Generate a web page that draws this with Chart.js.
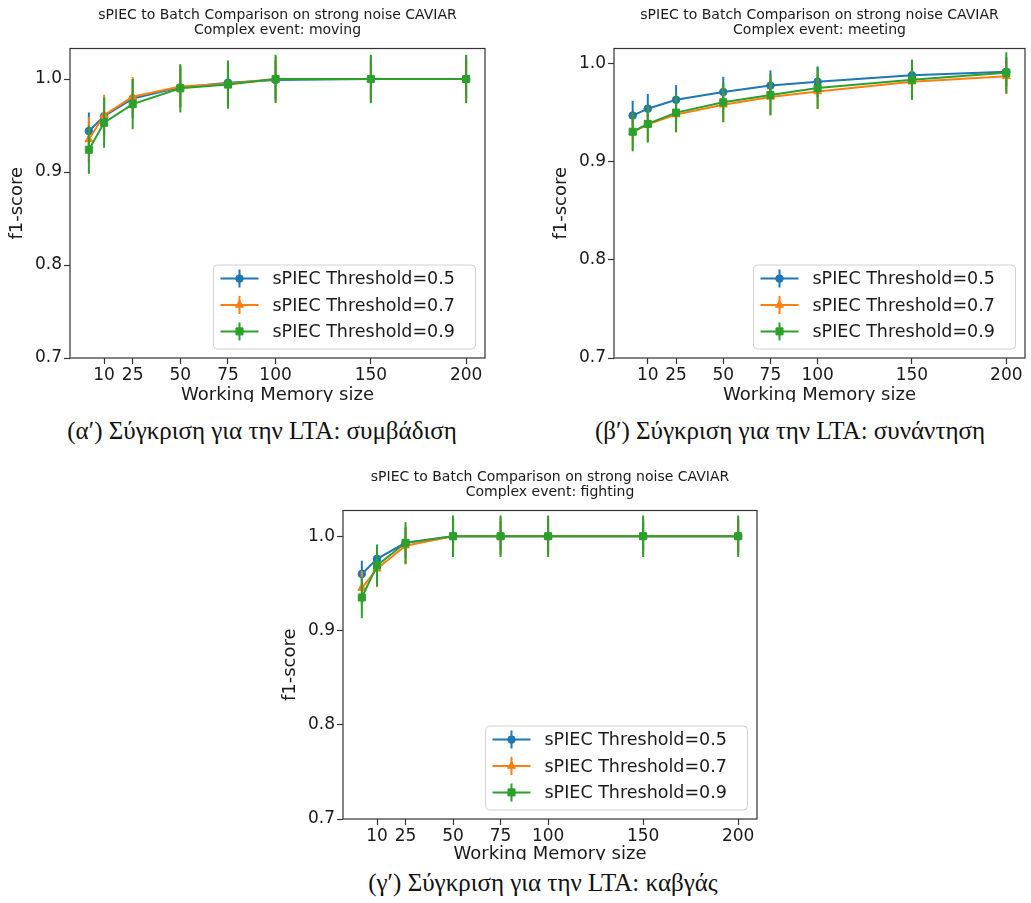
<!DOCTYPE html>
<html>
<head>
<meta charset="utf-8">
<script src="https://cdn.jsdelivr.net/npm/chart.js@4.4.0/dist/chart.umd.min.js"></script>
<style>
  body { margin: 0; background: #fff; width: 1031px; height: 903px; position: relative; overflow: hidden; }
  .wrap { position: absolute; overflow: hidden; }
  .wrap canvas { display: block; }
  .caption { position: absolute; font-family: "Liberation Serif", serif; font-size: 25px; color: #111; white-space: nowrap; transform: translateX(-50%); line-height: 25px; }
</style>
</head>
<body>
<div class="wrap" style="left:0px;top:0px;width:505px;height:402px"><canvas id="chartMoving" width="505" height="410"></canvas></div>
<div class="wrap" style="left:544px;top:0px;width:487px;height:402px"><canvas id="chartMeeting" width="487" height="410"></canvas></div>
<div class="wrap" style="left:273px;top:462px;width:504px;height:398px"><canvas id="chartFighting" width="504" height="407"></canvas></div>

<div class="caption" style="left:262px;top:418px">(α′) Σύγκριση για την LTA: συμβάδιση</div>
<div class="caption" style="left:790px;top:418px">(β′) Σύγκριση για την LTA: συνάντηση</div>
<div class="caption" style="left:543px;top:870px">(γ′) Σύγκριση για την LTA: καβγάς</div>

<script>
// working memory sizes on the x axis
const wmSizes = [2, 10, 25, 50, 75, 100, 150, 200];
const xTickValues = [10, 25, 50, 75, 100, 150, 200];
const yTickValues = [0.7, 0.8, 0.9, 1.0];
const thresholdLabels = ["sPIEC Threshold=0.5", "sPIEC Threshold=0.7", "sPIEC Threshold=0.9"];

// moving
const movingT05 = [0.944, 0.960, 0.979, 0.991, 0.996, 0.999, 1.0, 1.0];
const movingT05Err = [0.020, 0.020, 0.021, 0.021, 0.021, 0.021, 0.021, 0.021];
const movingT07 = [0.935, 0.961, 0.981, 0.992, 0.995, 1.0, 1.0, 1.0];
const movingT07Err = [0.024, 0.022, 0.021, 0.023, 0.024, 0.024, 0.025, 0.025];
const movingT09 = [0.924, 0.953, 0.973, 0.990, 0.994, 1.0, 1.0, 1.0];
const movingT09Err = [0.026, 0.027, 0.027, 0.026, 0.026, 0.026, 0.026, 0.026];

// meeting
const meetingT05 = [0.947, 0.954, 0.963, 0.971, 0.9775, 0.9815, 0.988, 0.9915];
const meetingT05Err = [0.015, 0.015, 0.015, 0.0155, 0.0155, 0.0155, 0.015, 0.015];
const meetingT07 = [0.930, 0.938, 0.948, 0.958, 0.966, 0.9715, 0.9815, 0.987];
const meetingT07Err = [0.018, 0.018, 0.018, 0.018, 0.018, 0.018, 0.018, 0.018];
const meetingT09 = [0.9305, 0.9385, 0.950, 0.9605, 0.968, 0.975, 0.9835, 0.9905];
const meetingT09Err = [0.020, 0.019, 0.020, 0.020, 0.021, 0.021, 0.0205, 0.021];

// fighting
const fightingT05 = [0.960, 0.976, 0.993, 1.0, 1.0, 1.0, 1.0, 1.0];
const fightingT05Err = [0.014, 0.015, 0.016, 0.016, 0.016, 0.016, 0.016, 0.016];
const fightingT07 = [0.945, 0.9655, 0.990, 1.0, 1.0, 1.0, 1.0, 1.0];
const fightingT07Err = [0.018, 0.0195, 0.020, 0.020, 0.020, 0.020, 0.020, 0.020];
const fightingT09 = [0.935, 0.969, 0.993, 1.0, 1.0, 1.0, 1.0, 1.0];
const fightingT09Err = [0.022, 0.022, 0.022, 0.022, 0.022, 0.022, 0.022, 0.022];

const seriesColors = ["#1f77b4", "#ff7f0e", "#2ca02c"];
const markerStyles = ["circle", "triangle", "rect"];
const markerSizes = [3.8, 4.6, 5];
const textColor = "#1a1a1a";
const sansFont = "DejaVu Sans";

// vertical error bars, drawn just under each series
const errorBarPlugin = {
    id: "errorBars",
    beforeDatasetDraw(chart, args) {
        let ds = chart.data.datasets[args.index];
        let yScale = chart.scales.y;
        let c = chart.ctx;
        c.save();
        c.strokeStyle = ds.borderColor;
        c.lineWidth = 2;
        args.meta.data.forEach((pt, j) => {
            let v = ds.data[j].y;
            let e = ds.errors[j];
            c.beginPath();
            c.moveTo(pt.x, yScale.getPixelForValue(v - e));
            c.lineTo(pt.x, yScale.getPixelForValue(v + e));
            c.stroke();
        });
        c.restore();
    }
};

// axes frame + matplotlib-like legend in the lower right corner
const frameLegendPlugin = {
    id: "frameLegend",
    afterDraw(chart) {
        let c = chart.ctx;
        let a = chart.chartArea;
        c.save();
        c.strokeStyle = "#333";
        c.lineWidth = 1.2;
        c.strokeRect(a.left, a.top, a.right - a.left, a.bottom - a.top);

        let w = 262, h = 84;
        let x0 = a.right - 9.5 - w;
        let y0 = a.bottom - 9 - h;
        c.beginPath();
        c.roundRect(x0, y0, w, h, 4);
        c.fillStyle = "rgba(255,255,255,0.8)";
        c.fill();
        c.strokeStyle = "#d0d0d0";
        c.lineWidth = 1;
        c.stroke();

        chart.data.datasets.forEach((ds, i) => {
            let yy = y0 + 13.6 + i * 26.4;
            c.strokeStyle = ds.borderColor;
            c.fillStyle = ds.borderColor;
            c.lineWidth = 2;
            c.beginPath();
            c.moveTo(x0 + 7, yy);
            c.lineTo(x0 + 45, yy);
            c.moveTo(x0 + 26, yy - 9);
            c.lineTo(x0 + 26, yy + 9);
            c.stroke();
            c.lineWidth = 1;
            Chart.helpers.drawPoint(c, {pointStyle: ds.pointStyle, radius: ds.pointRadius, rotation: 0, borderWidth: 1}, x0 + 26, yy);
            c.fillStyle = textColor;
            c.font = "17.5px '" + sansFont + "'";
            c.textBaseline = "middle";
            c.textAlign = "left";
            c.fillText(ds.label, x0 + 59, yy + 1);
        });
        c.restore();
    }
};

function buildChart(canvasId, eventName, series, errors, yMax, axisHeight, padRight) {
    let ctx = document.getElementById(canvasId).getContext("2d");
    return new Chart(ctx, {
        type: "line",
        data: {
            datasets: series.map((vals, i) => ({
                label: thresholdLabels[i],
                data: vals.map((v, j) => ({x: wmSizes[j], y: v})),
                errors: errors[i],
                borderColor: seriesColors[i],
                backgroundColor: seriesColors[i],
                borderWidth: 2,
                pointStyle: markerStyles[i],
                pointRadius: markerSizes[i],
                pointBorderWidth: 1,
                pointBorderColor: seriesColors[i],
                pointBackgroundColor: seriesColors[i],
                tension: 0,
                fill: false,
                order: 3 - i
            }))
        },
        options: {
            responsive: false,
            animation: false,
            events: [],
            layout: {padding: {left: 0, right: padRight, top: 0, bottom: 0}},
            plugins: {
                legend: {display: false},
                tooltip: {enabled: false},
                title: {
                    display: true,
                    fullSize: false,
                    text: ["sPIEC to Batch Comparison on strong noise CAVIAR", "Complex event: " + eventName],
                    color: textColor,
                    font: {family: sansFont, size: 14, weight: "normal", lineHeight: 15 / 14},
                    padding: {top: 7.5, bottom: 11}
                }
            },
            scales: {
                x: {
                    type: "linear",
                    min: -7.9,
                    max: 209.9,
                    afterBuildTicks: s => { s.ticks = xTickValues.map(v => ({value: v})); },
                    afterFit: s => { s.height = axisHeight; },
                    ticks: {
                        autoSkip: false,
                        maxRotation: 0,
                        padding: 1,
                        color: textColor,
                        font: {family: sansFont, size: 17},
                        callback: v => String(v)
                    },
                    grid: {drawOnChartArea: false, drawTicks: true, tickLength: 6, tickColor: "#333", tickWidth: 1.2},
                    border: {display: false},
                    title: {
                        display: true,
                        text: "Working Memory size",
                        color: textColor,
                        font: {family: sansFont, size: 18},
                        padding: {top: 4, bottom: 4}
                    }
                },
                y: {
                    type: "linear",
                    min: 0.7,
                    max: yMax,
                    afterBuildTicks: s => { s.ticks = yTickValues.map(v => ({value: v})); },
                    afterFit: s => { s.width = 70; },
                    ticks: {
                        padding: 2,
                        color: textColor,
                        font: {family: sansFont, size: 17},
                        callback: v => v.toFixed(1)
                    },
                    grid: {drawOnChartArea: false, drawTicks: true, tickLength: 6, tickColor: "#333", tickWidth: 1.2},
                    border: {display: false},
                    title: {
                        display: true,
                        text: "f1-score",
                        color: textColor,
                        font: {family: sansFont, size: 18},
                        padding: {top: 6.5, bottom: 0}
                    }
                }
            }
        },
        plugins: [errorBarPlugin, frameLegendPlugin]
    });
}

buildChart("chartMoving", "moving",
    [movingT05, movingT07, movingT09],
    [movingT05Err, movingT07Err, movingT09Err],
    1.0328, 52, 20);

buildChart("chartMeeting", "meeting",
    [meetingT05, meetingT07, meetingT09],
    [meetingT05Err, meetingT07Err, meetingT09Err],
    1.0153, 52, 2);

buildChart("chartFighting", "fighting",
    [fightingT05, fightingT07, fightingT09],
    [fightingT05Err, fightingT07Err, fightingT09Err],
    1.0273, 50, 20);
</script>
</body>
</html>
